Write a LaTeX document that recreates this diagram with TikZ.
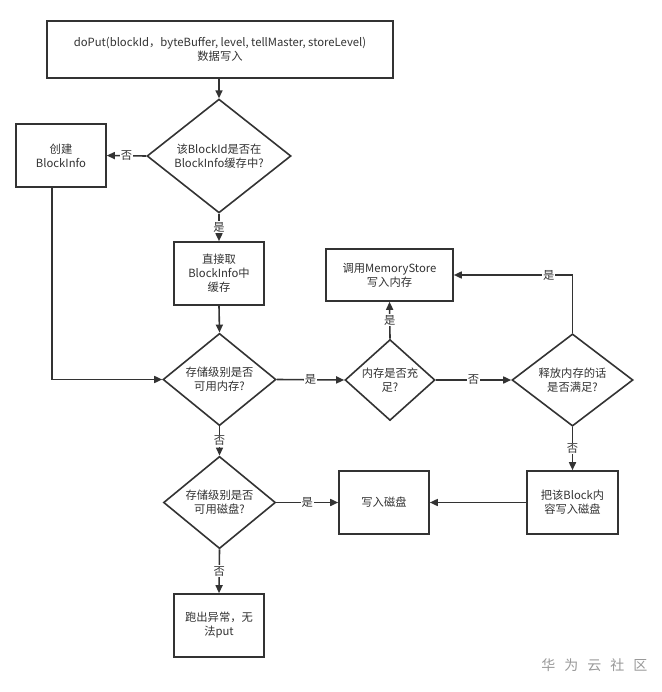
\documentclass[tikz,border=0pt]{standalone}
\usepackage{fontspec}
\setmainfont{Noto Sans CJK SC}
\usetikzlibrary{shapes.geometric,arrows.meta}
\definecolor{ink}{HTML}{333333}
\tikzset{
  box/.style={draw=ink,line width=1.6pt,rectangle,inner sep=0pt,align=center,text=ink,font=\fontsize{11.3}{14}\selectfont},
  dia/.style={draw=ink,line width=1.6pt,diamond,inner sep=0pt,align=center,text=ink,font=\fontsize{11.3}{14}\selectfont},
  conn/.style={draw=ink,line width=1.6pt,-{Triangle[length=8pt,width=7pt]}},
  lbl/.style={fill=white,inner sep=1pt,text=ink,font=\fontsize{11.3}{12}\selectfont},
}
\begin{document}
\begin{tikzpicture}[x=1pt,y=-1pt]
\useasboundingbox[fill=white] (0,0) rectangle (661,692);
\node[box,minimum width=346pt,minimum height=57pt] (top) at (220,49.5) {doPut(blockId，byteBuffer, level, tellMaster, storeLevel)\\数据写入};
\node[dia,minimum width=144pt,minimum height=92pt] (d1) at (219,156) {该BlockId是否在\\BlockInfo缓存中?};
\node[box,minimum width=90pt,minimum height=63pt] (create) at (61,155.5) {创建\\BlockInfo};
\node[box,minimum width=90pt,minimum height=63pt] (direct) at (219,273.5) {直接取\\BlockInfo中\\缓存};
\node[dia,minimum width=113pt,minimum height=83pt] (d2) at (219.5,379.5) {存储级别是否\\可用内存?};
\node[dia,minimum width=90pt,minimum height=63pt] (d3) at (390,380) {内存是否充\\足?};
\node[box,minimum width=127pt,minimum height=52pt] (mem) at (389.5,275) {调用MemoryStore\\写入内存};
\node[dia,minimum width=121pt,minimum height=71pt] (d4) at (572.5,380) {释放内存的话\\是否满足?};
\node[box,minimum width=91pt,minimum height=63pt] (blk) at (572.5,502.5) {把该Block内\\容写入磁盘};
\node[box,minimum width=90pt,minimum height=63pt] (disk) at (384,502.5) {写入磁盘};
\node[dia,minimum width=112pt,minimum height=81pt] (d5) at (219.5,502.5) {存储级别是否\\可用磁盘?};
\node[box,minimum width=90pt,minimum height=63pt] (exc) at (219,625.5) {跑出异常，无\\法put};
\coordinate (c0) at ([xshift=-9pt]create.south);
\coordinate (c1) at (c0 |- d2.west);
\coordinate (c4) at (d4.north |- mem.east);

\draw[conn] (top.south -| d1.north) -- (d1.north);
\draw[conn] (d1.west) -- node[lbl]{否} (create.east);
\draw[conn] (d1.south) -- node[lbl]{是} (direct.north);
\draw[conn] (direct.south) -- (d2.north);
\draw[conn] (c0) -- (c1) -- (d2.west);
\draw[conn] (d2.east) -- node[lbl]{是} (d3.west);
\draw[conn] (d3.north) -- node[lbl]{是} (mem.south);
\draw[conn] (d3.east) -- node[lbl]{否} (d4.west);
\draw[conn] (d4.north) -- (c4) -- node[lbl,pos=0.2]{是} (mem.east);
\draw[conn] (d4.south) -- node[lbl]{否} (blk.north);
\draw[conn] (blk.west) -- (disk.east);
\draw[conn] (d2.south) -- node[lbl]{否} (d5.north);
\draw[conn] (d5.east) -- node[lbl]{是} (disk.west);
\draw[conn] (d5.south) -- node[lbl]{否} (exc.north);
\node[text=black!40,font=\fontsize{14}{14}\selectfont,anchor=east] (wm) at (651,665) {华\hspace{9pt}为\hspace{9pt}云\hspace{9pt}社\hspace{9pt}区};
\end{tikzpicture}
\end{document}
